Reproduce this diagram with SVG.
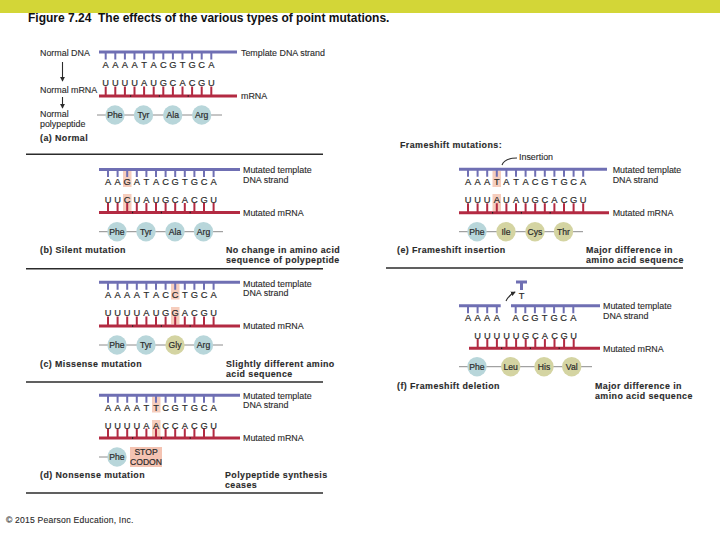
<svg xmlns="http://www.w3.org/2000/svg" width="720" height="540" viewBox="0 0 720 540">
<style>
text{font-family:"Liberation Sans",Arial,sans-serif;fill:#2b2b2b;stroke:#2b2b2b;stroke-width:.12;font-size:8.9px}
.b{font-weight:bold;letter-spacing:.42px}
.n{text-anchor:middle;font-size:9.3px;letter-spacing:0;stroke-width:.2}
.p{text-anchor:middle;font-size:8.6px;stroke-width:.2}
.d{stroke:#6f6fb3;stroke-width:3;fill:none}
.dt{stroke:#6f6fb3;stroke-width:7;stroke-dasharray:2 7.6;fill:none}
.m{stroke:#b32a42;stroke-width:3;fill:none}
.mt{stroke:#b32a42;stroke-width:9;stroke-dasharray:2 7.6;fill:none}
.k{stroke:#1f1f1f;stroke-width:1.5;stroke-dasharray:1.2 27.6;fill:none}
.pl{stroke:#8c8c8c;stroke-width:1;fill:none}
.c{fill:#b8d6da}
.o{fill:#d4d4a2}
.h{fill:#f6cdbd}
.r{stroke:#2b2b2b;stroke-width:1.4;fill:none}
.a{stroke:#2b2b2b;stroke-width:1.1;fill:none}
</style>
<defs>
<marker id="ah" viewBox="0 0 6 6" refX="5" refY="3" markerWidth="4.5" markerHeight="4.5" orient="auto"><path d="M0 0L6 3L0 6Z" fill="#2b2b2b"/></marker>
</defs>
<rect width="720" height="13" fill="#d3d637"/>
<text x="28" y="21.5" style="font-weight:bold;font-size:12px;fill:#111;stroke:none;white-space:pre" id="title">Figure 7.24  The effects of the various types of point mutations.</text>

<g id="connectors">
<line class="a" x1="62.5" y1="62" x2="62.5" y2="81" marker-end="url(#ah)"/>
<line class="a" x1="62.5" y1="97" x2="62.5" y2="108" marker-end="url(#ah)"/>
<path class="a" d="M502 165C504 160 510 158 517 158"/>
<path class="a" d="M506 301C508 297 511 294 515 292" marker-end="url(#ah)"/>
<line class="r" x1="26" y1="154.3" x2="323" y2="154.3"/>
<line class="r" x1="26" y1="268.7" x2="323" y2="268.7"/>
<line class="r" x1="26" y1="382" x2="323" y2="382"/>
<line class="r" x1="26" y1="493" x2="323" y2="493"/>
<line class="r" x1="386" y1="268" x2="683" y2="268"/>
</g>

<g id="panel-a">
<text x="40" y="56">Normal DNA</text>
<text x="40" y="93">Normal mRNA</text>
<text x="40" y="117">Normal</text>
<text x="40" y="127">polypeptide</text>
<text x="40" y="141" class="b">(a) Normal</text>
<text x="241" y="56">Template DNA strand</text>
<text x="241" y="99">mRNA</text>
<line class="d" x1="99" y1="52" x2="237" y2="52"/>
<line class="dt" x1="104.7" y1="56" x2="216" y2="56"/>
<line class="mt" x1="104.7" y1="91" x2="216" y2="91"/>
<line class="m" x1="99" y1="96" x2="237" y2="96"/>
<line class="k" x1="130" y1="96" x2="216" y2="96"/>
<text class="n" y="68" x="105.7 115.3 124.9 134.5 144.1 153.7 163.3 172.9 182.5 192.1 201.7 211.3">AAAATACGTGCA</text>
<text class="n" y="86" x="105.7 115.3 124.9 134.5 144.1 153.7 163.3 172.9 182.5 192.1 201.7 211.3">UUUUAUGCACGU</text>
<line class="pl" x1="97" y1="115" x2="222" y2="115"/>
<circle class="c" cx="115" cy="115" r="9.7"/><circle class="c" cx="143.5" cy="115" r="9.7"/><circle class="c" cx="172.7" cy="115" r="9.7"/><circle class="c" cx="201.7" cy="115" r="9.7"/>
<text class="p" x="115" y="118">Phe</text><text class="p" x="143.5" y="118">Tyr</text><text class="p" x="172.7" y="118">Ala</text><text class="p" x="201.7" y="118">Arg</text>
</g>

<g id="panel-b">
<rect class="h" x="123" y="171" width="8.5" height="16"/>
<rect class="h" x="123" y="194" width="8.5" height="17"/>
<line class="d" x1="99" y1="169.5" x2="240" y2="169.5"/>
<line class="dt" x1="107" y1="173.5" x2="218" y2="173.5"/>
<line class="mt" x1="107" y1="207.5" x2="218" y2="207.5"/>
<line class="m" x1="99" y1="212.5" x2="240" y2="212.5"/>
<line class="k" x1="132" y1="212.5" x2="218" y2="212.5"/>
<text class="n" y="185" x="108 117.6 127.2 136.8 146.4 156 165.6 175.2 184.8 194.4 204 213.6">AAGATACGTGCA</text>
<text class="n" y="203" x="108 117.6 127.2 136.8 146.4 156 165.6 175.2 184.8 194.4 204 213.6">UUCUAUGCACGU</text>
<line class="pl" x1="99" y1="231.7" x2="223" y2="231.7"/>
<circle class="c" cx="117" cy="231.7" r="9.7"/><circle class="c" cx="146" cy="231.7" r="9.7"/><circle class="c" cx="175" cy="231.7" r="9.7"/><circle class="c" cx="203.5" cy="231.7" r="9.7"/>
<text class="p" x="117" y="234.7">Phe</text><text class="p" x="146" y="234.7">Tyr</text><text class="p" x="175" y="234.7">Ala</text><text class="p" x="203.5" y="234.7">Arg</text>
<text x="243" y="173">Mutated template</text>
<text x="243" y="183">DNA strand</text>
<text x="243" y="216">Mutated mRNA</text>
<text x="40" y="253" class="b">(b) Silent mutation</text>
<text x="226" y="253" class="b">No change in amino acid</text>
<text x="226" y="263" class="b">sequence of polypeptide</text>
</g>

<g id="panel-c">
<rect class="h" x="171" y="283.5" width="8.5" height="16"/>
<rect class="h" x="171" y="307" width="8.5" height="17"/>
<line class="d" x1="99" y1="282.3" x2="240" y2="282.3"/>
<line class="dt" x1="107" y1="286.3" x2="218" y2="286.3"/>
<line class="mt" x1="107" y1="321" x2="218" y2="321"/>
<line class="m" x1="99" y1="326" x2="240" y2="326"/>
<line class="k" x1="132" y1="326" x2="218" y2="326"/>
<text class="n" y="298" x="108 117.6 127.2 136.8 146.4 156 165.6 175.2 184.8 194.4 204 213.6">AAAATACCTGCA</text>
<text class="n" y="316" x="108 117.6 127.2 136.8 146.4 156 165.6 175.2 184.8 194.4 204 213.6">UUUUAUGGACGU</text>
<line class="pl" x1="99" y1="345" x2="223" y2="345"/>
<circle class="c" cx="117" cy="345" r="9.7"/><circle class="c" cx="146" cy="345" r="9.7"/><circle class="o" cx="175" cy="345" r="9.7"/><circle class="c" cx="203.5" cy="345" r="9.7"/>
<text class="p" x="117" y="348">Phe</text><text class="p" x="146" y="348">Tyr</text><text class="p" x="175" y="348">Gly</text><text class="p" x="203.5" y="348">Arg</text>
<text x="243" y="287">Mutated template</text>
<text x="243" y="296">DNA strand</text>
<text x="243" y="329">Mutated mRNA</text>
<text x="40" y="367" class="b">(c) Missense mutation</text>
<text x="226" y="367" class="b">Slightly different amino</text>
<text x="226" y="377" class="b">acid sequence</text>
</g>

<g id="panel-d">
<rect class="h" x="152" y="396.5" width="8.5" height="16"/>
<rect class="h" x="152" y="420" width="8.5" height="17"/>
<line class="d" x1="99" y1="395.3" x2="240" y2="395.3"/>
<line class="dt" x1="107" y1="399.3" x2="218" y2="399.3"/>
<line class="mt" x1="107" y1="433" x2="218" y2="433"/>
<line class="m" x1="99" y1="438" x2="240" y2="438"/>
<line class="k" x1="132" y1="438" x2="218" y2="438"/>
<text class="n" y="411" x="108 117.6 127.2 136.8 146.4 156 165.6 175.2 184.8 194.4 204 213.6">AAAATTCGTGCA</text>
<text class="n" y="429" x="108 117.6 127.2 136.8 146.4 156 165.6 175.2 184.8 194.4 204 213.6">UUUUAACCACGU</text>
<line class="pl" x1="99" y1="457" x2="118" y2="457"/>
<circle class="c" cx="117" cy="457" r="9.7"/>
<text class="p" x="117" y="460">Phe</text>
<rect x="130" y="447" width="32" height="20" fill="#f4c3b2"/>
<text class="p" x="146" y="455">STOP</text>
<text class="p" x="146" y="465">CODON</text>
<text x="243" y="399">Mutated template</text>
<text x="243" y="408">DNA strand</text>
<text x="243" y="441">Mutated mRNA</text>
<text x="40" y="478" class="b">(d) Nonsense mutation</text>
<text x="225" y="478" class="b">Polypeptide synthesis</text>
<text x="225" y="488" class="b">ceases</text>
</g>

<g id="panel-e">
<text x="400" y="148" class="b">Frameshift mutations:</text>
<text x="519" y="160">Insertion</text>
<rect class="h" x="492.5" y="171" width="8.5" height="16"/>
<rect class="h" x="492.5" y="194" width="8.5" height="17"/>
<line class="d" x1="459" y1="169.3" x2="607" y2="169.3"/>
<line class="dt" x1="467" y1="173.3" x2="588" y2="173.3"/>
<line class="mt" x1="467" y1="207.7" x2="588" y2="207.7"/>
<line class="m" x1="459" y1="212.7" x2="609" y2="212.7"/>
<line class="k" x1="492" y1="212.7" x2="578" y2="212.7"/>
<text class="n" y="185" x="468 477.6 487.2 496.8 506.4 516 525.6 535.2 544.8 554.4 564 573.6 583.2">AAATATACGTGCA</text>
<text class="n" y="203" x="468 477.6 487.2 496.8 506.4 516 525.6 535.2 544.8 554.4 564 573.6 583.2">UUUAUAUGCACGU</text>
<line class="pl" x1="459" y1="231.7" x2="583" y2="231.7"/>
<circle class="c" cx="477" cy="231.7" r="9.7"/><circle class="o" cx="506" cy="231.7" r="9.7"/><circle class="o" cx="535" cy="231.7" r="9.7"/><circle class="o" cx="563.5" cy="231.7" r="9.7"/>
<text class="p" x="477" y="234.7">Phe</text><text class="p" x="506" y="234.7">Ile</text><text class="p" x="535" y="234.7">Cys</text><text class="p" x="563.5" y="234.7">Thr</text>
<text x="612.7" y="173">Mutated template</text>
<text x="612.7" y="183">DNA strand</text>
<text x="612.7" y="216">Mutated mRNA</text>
<text x="397" y="253" class="b">(e) Frameshift insertion</text>
<text x="586" y="253" class="b">Major difference in</text>
<text x="586" y="263" class="b">amino acid sequence</text>
</g>

<g id="panel-f">
<line class="d" x1="516" y1="282" x2="527" y2="282"/>
<line class="d" x1="521.5" y1="282" x2="521.5" y2="290"/>
<text class="n" x="521.5" y="299">T</text>
<line class="d" x1="459" y1="305.7" x2="500.7" y2="305.7"/>
<line class="d" x1="511" y1="305.7" x2="600" y2="305.7"/>
<line class="dt" x1="467" y1="309.7" x2="500" y2="309.7"/>
<line class="dt" x1="514.7" y1="309.7" x2="578" y2="309.7"/>
<text class="n" y="320.7" x="468 477.6 487.2 496.8 515.7 525.3 534.9 544.5 554.1 563.7 573.3">AAAAACGTGCA</text>
<text class="n" y="339" x="477.7 487.3 496.9 506.5 516.1 525.7 535.3 544.9 554.5 564.1 573.7">UUUUUGCACGU</text>
<line class="mt" x1="476.7" y1="343.5" x2="578" y2="343.5"/>
<line class="m" x1="469" y1="348.3" x2="600" y2="348.3"/>
<line class="k" x1="501" y1="348.3" x2="560" y2="348.3"/>
<line class="pl" x1="459" y1="366.7" x2="592" y2="366.7"/>
<circle class="c" cx="477" cy="366.7" r="9.7"/><circle class="o" cx="510.7" cy="366.7" r="9.7"/><circle class="o" cx="544" cy="366.7" r="9.7"/><circle class="o" cx="571.7" cy="366.7" r="9.7"/>
<text class="p" x="477" y="369.7">Phe</text><text class="p" x="510.7" y="369.7">Leu</text><text class="p" x="544" y="369.7">His</text><text class="p" x="571.7" y="369.7">Val</text>
<text x="603" y="309">Mutated template</text>
<text x="603" y="319">DNA strand</text>
<text x="603" y="352">Mutated mRNA</text>
<text x="397" y="389" class="b">(f) Frameshift deletion</text>
<text x="595" y="389" class="b">Major difference in</text>
<text x="595" y="399" class="b">amino acid sequence</text>
</g>

<text id="copyright" x="6" y="523" style="font-size:8.6px;letter-spacing:.2px">© 2015 Pearson Education, Inc.</text>
</svg>
